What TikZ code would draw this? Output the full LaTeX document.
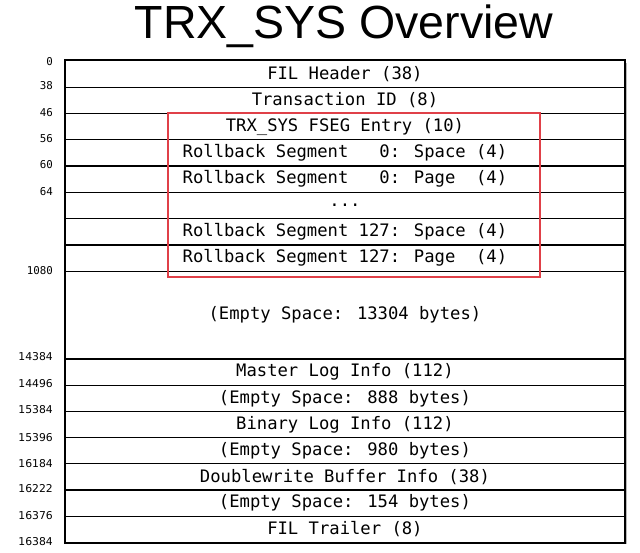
\documentclass[tikz,border=0pt]{standalone}
\usepackage{fontspec}
\setmainfont{Liberation Sans}
\newfontfamily\monof{DejaVu Sans Mono}
\newfontfamily\labf{DejaVu Sans}
\definecolor{boxred}{RGB}{224,64,72}
\begin{document}
\begin{tikzpicture}[x=1pt,y=-1pt,
  rowbox/.style={draw=black,line width=1.3pt,minimum width=560pt,inner sep=0pt,anchor=north west,
    font=\monof\fontsize{17.2}{20}\selectfont},
  offlab/.style={anchor=east,inner sep=0pt,font=\monof\fontsize{10.8}{12}\selectfont},
  offlabs/.style={anchor=east,inner sep=0pt,font=\labf\fontsize{10.8}{12}\selectfont}]
\useasboundingbox (0,0) rectangle (640,552);
\node[inner sep=0pt,font=\fontsize{46.5}{50}\selectfont] (title) at (344,26) {TRX\_SYS Overview};
% shadow
\fill[gray!55] (66.8,62.5) rectangle (626.8,544.4);
\fill[white] (64.3,60) rectangle (624.3,541.7);
% rows
\node[rowbox,minimum height=26.5pt] (r1) at (64.3,60) {FIL Header (38)};
\node[rowbox,minimum height=26.3pt] (r2) at (64.3,86.5) {Transaction ID (8)};
\node[rowbox,minimum height=26.3pt] (r3) at (64.3,112.8) {TRX\_SYS FSEG Entry (10)};
\node[rowbox,minimum height=26.3pt] (r4) at (64.3,139.1) {Rollback Segment~~~0: Space (4)};
\node[rowbox,minimum height=26.3pt] (r5) at (64.3,165.4) {Rollback Segment~~~0: Page~~(4)};
\node[rowbox,minimum height=26.3pt] (r6) at (64.3,191.7) {...};
\node[rowbox,minimum height=26.3pt] (r7) at (64.3,218) {Rollback Segment 127: Space (4)};
\node[rowbox,minimum height=26.3pt] (r8) at (64.3,244.3) {Rollback Segment 127: Page~~(4)};
\node[rowbox,minimum height=87.7pt] (r9) at (64.3,270.6) {(Empty Space: 13304 bytes)};
\node[rowbox,minimum height=26.2pt] (r10) at (64.3,358.3) {Master Log Info (112)};
\node[rowbox,minimum height=26.2pt] (r11) at (64.3,384.5) {(Empty Space: 888 bytes)};
\node[rowbox,minimum height=26.2pt] (r12) at (64.3,410.7) {Binary Log Info (112)};
\node[rowbox,minimum height=26.2pt] (r13) at (64.3,436.9) {(Empty Space: 980 bytes)};
\node[rowbox,minimum height=26.2pt] (r14) at (64.3,463.1) {Doublewrite Buffer Info (38)};
\node[rowbox,minimum height=26.2pt] (r15) at (64.3,489.3) {(Empty Space: 154 bytes)};
\node[rowbox,minimum height=26.2pt] (r16) at (64.3,515.5) {FIL Trailer (8)};
% outer border
\draw[line width=1.6pt] (r1.north west) rectangle (r16.south east);
% red box
\draw[boxred,line width=2pt] (168.3,113.3) rectangle (540,277.3);
% offset labels
\node[offlab] (o0) at (53,61.5) {0};
\node[offlab] (o38) at (53,86) {38};
\node[offlab] (o46) at (53,112.3) {46};
\node[offlab] (o56) at (53,138.6) {56};
\node[offlab] (o60) at (53,164.9) {60};
\node[offlab] (o64) at (53,191.2) {64};
\node[offlab] (o1080) at (53,270.1) {1080};
\node[offlabs] (o14384) at (53,356.8) {14384};
\node[offlabs] (o14496) at (53,383.2) {14496};
\node[offlabs] (o15384) at (53,409.4) {15384};
\node[offlabs] (o15396) at (53,437.4) {15396};
\node[offlabs] (o16184) at (53,463.6) {16184};
\node[offlabs] (o16222) at (53,488.8) {16222};
\node[offlabs] (o16376) at (53,516.0) {16376};
\node[offlabs] (o16384) at (53,541.2) {16384};
\end{tikzpicture}
\end{document}
